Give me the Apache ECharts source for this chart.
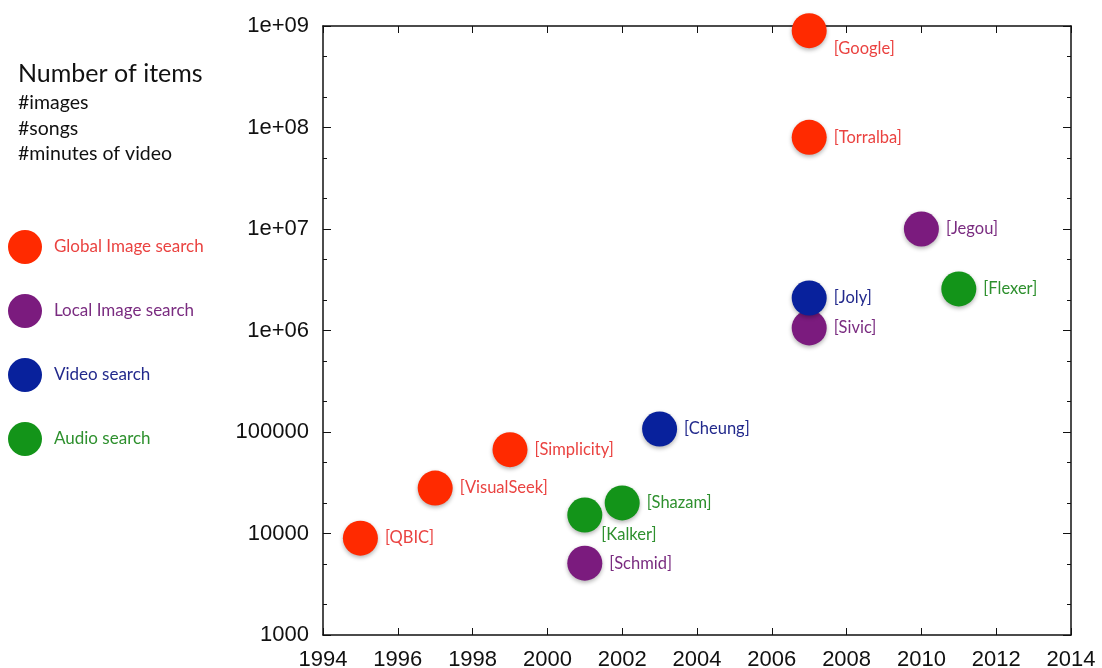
<!DOCTYPE html>
<html>
<head>
<meta charset="utf-8">
<script src="https://cdn.jsdelivr.net/npm/echarts@6/dist/echarts.min.js"></script>
<style>
  html, body { margin: 0; padding: 0; background: #fff; }
  #chart { width: 1102px; height: 668px; }
</style>
</head>
<body>
<div id="chart"></div>
<script>
// categories
const seriesNames = ["Global Image search", "Local Image search", "Video search", "Audio search"];

// Global image search
const globalNames = ["QBIC", "VisualSeek", "Simplicity", "Torralba", "Google"];
const globalYears = [1995, 1997, 1999, 2007, 2007];
const globalItems = [9000, 28000, 67000, 80000000, 900000000];

// Local image search
const localNames = ["Schmid", "Sivic", "Jegou"];
const localYears = [2001, 2007, 2010];
const localItems = [5100, 1060000, 10000000];

// Video search
const videoNames = ["Cheung", "Joly"];
const videoYears = [2003, 2007];
const videoItems = [107000, 2090000];

// Audio search
const audioNames = ["Kalker", "Shazam", "Flexer"];
const audioYears = [2001, 2002, 2011];
const audioItems = [15200, 20000, 2570000];

// axes
const yearMin = 1994, yearMax = 2014, yearStep = 2;
const itemsMin = 1000, itemsMax = 1000000000;
const minorTickValues = [2000, 5000, 20000, 50000, 200000, 500000, 2000000, 5000000,
  20000000, 50000000, 200000000, 500000000];
const yTickLabels = {
  1000: "1000", 10000: "10000", 100000: "100000",
  1000000: "1e+06", 10000000: "1e+07", 100000000: "1e+08", 1000000000: "1e+09"
};

const markerColors = ["#ff2a00", "#7b1b7e", "#08219c", "#139419"];
const textColors = ["#ea4341", "#7a2c80", "#22298c", "#2e902e"];

// a few labels sit below the dot instead of beside it
const labelTweaks = {
  Google: { offset: [0, 18] },
  Kalker: { offset: [-8, 20] }
};

const chart = echarts.init(document.getElementById("chart"));

const groups = [
  [globalNames, globalYears, globalItems],
  [localNames, localYears, localItems],
  [videoNames, videoYears, videoItems],
  [audioNames, audioYears, audioItems]
];

const axisFont = "'Liberation Sans', Arial, sans-serif";
const textFont = "Lato, 'Open Sans', sans-serif";

const series = groups.map((g, i) => ({
  name: seriesNames[i],
  type: "scatter",
  xAxisIndex: 0,
  yAxisIndex: 0,
  symbolSize: 35,
  itemStyle: {
    color: markerColors[i],
    opacity: 1,
    shadowBlur: 4,
    shadowColor: "rgba(0,0,0,0.3)",
    shadowOffsetY: 2
  },
  label: {
    show: true,
    position: "right",
    distance: 7,
    formatter: p => "[" + p.name + "]",
    color: textColors[i],
    fontSize: 16.5,
    fontFamily: textFont
  },
  emphasis: { disabled: true },
  data: g[0].map((n, k) => {
    const item = { name: n, value: [g[1][k], g[2][k]] };
    if (labelTweaks[n]) item.label = labelTweaks[n];
    return item;
  })
}));

const option = {
  animation: false,
  backgroundColor: "#fff",
  title: {
    text: "Number of items",
    subtext: "#images\n#songs\n#minutes of video",
    left: 18,
    top: 60,
    itemGap: 2,
    padding: 0,
    textStyle: { fontSize: 25, fontWeight: "normal", color: "#111", lineHeight: 28, fontFamily: textFont },
    subtextStyle: { fontSize: 19.5, color: "#111", lineHeight: 25.5, fontFamily: textFont }
  },
  legend: {
    orient: "vertical",
    left: 8,
    top: 230,
    itemWidth: 34,
    itemHeight: 34,
    itemGap: 30,
    icon: "circle",
    selectedMode: false,
    padding: 0,
    textStyle: { fontSize: 17, fontFamily: textFont, padding: [0, 0, 0, 7] },
    data: seriesNames.map((n, i) => ({ name: n, textStyle: { color: textColors[i] } }))
  },
  grid: { left: 323, right: 31, top: 26, bottom: 33, outerBoundsMode: "none" },
  xAxis: [
    {
      type: "value", position: "bottom", min: yearMin, max: yearMax, interval: yearStep,
      axisLine: { onZero: false, lineStyle: { color: "#111", width: 1.5 } },
      axisTick: { inside: true, length: 7, lineStyle: { color: "#111" } },
      axisLabel: { fontSize: 22, color: "#111", margin: 14, fontFamily: axisFont,
        formatter: v => String(v) },
      splitLine: { show: false }
    },
    {
      type: "value", position: "top", min: yearMin, max: yearMax, interval: yearStep,
      axisLine: { onZero: false, lineStyle: { color: "#111", width: 1.5 } },
      axisTick: { inside: true, length: 7, lineStyle: { color: "#111" } },
      axisLabel: { show: false },
      splitLine: { show: false }
    }
  ],
  yAxis: [
    {
      type: "log", position: "left", min: itemsMin, max: itemsMax, logBase: 10,
      axisLine: { onZero: false, lineStyle: { color: "#111", width: 1.5 } },
      axisTick: { inside: true, length: 8, lineStyle: { color: "#111" } },
      axisLabel: { fontSize: 22, color: "#111", margin: 14, fontFamily: axisFont,
        formatter: v => yTickLabels[Math.round(v)] || "" },
      splitLine: { show: false }
    },
    {
      type: "log", position: "right", min: itemsMin, max: itemsMax, logBase: 10,
      axisLine: { onZero: false, lineStyle: { color: "#111", width: 1.5 } },
      axisTick: { inside: true, length: 8, lineStyle: { color: "#111" } },
      axisLabel: { show: false },
      splitLine: { show: false }
    },
    // minor ticks (2x, 5x) drawn on an exponent-space axis
    {
      type: "value", position: "left", min: Math.log10(itemsMin), max: Math.log10(itemsMax),
      axisLine: { show: false },
      axisTick: { inside: true, length: 4, lineStyle: { color: "#111" },
        customValues: minorTickValues.map(v => Math.log10(v)) },
      axisLabel: { show: false },
      splitLine: { show: false }
    },
    {
      type: "value", position: "right", min: Math.log10(itemsMin), max: Math.log10(itemsMax),
      axisLine: { show: false },
      axisTick: { inside: true, length: 4, lineStyle: { color: "#111" },
        customValues: minorTickValues.map(v => Math.log10(v)) },
      axisLabel: { show: false },
      splitLine: { show: false }
    }
  ],
  series: series
};

chart.setOption(option);
</script>
</body>
</html>
